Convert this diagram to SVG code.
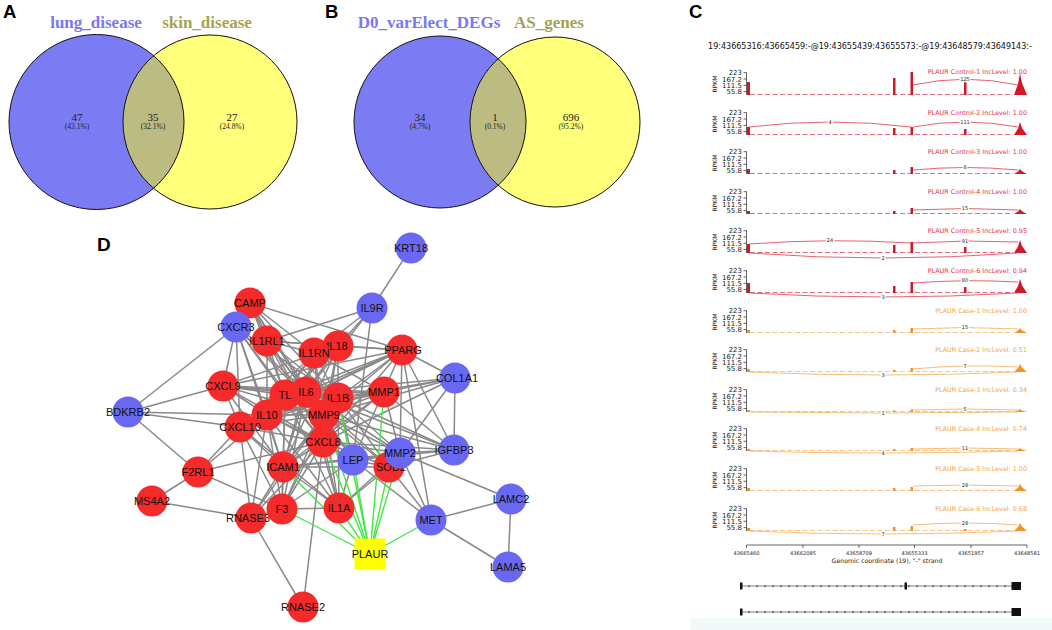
<svg xmlns="http://www.w3.org/2000/svg" xmlns:xlink="http://www.w3.org/1999/xlink" width="1052" height="630" viewBox="0 0 1052 630">
<style>
.pl{font-family:"Liberation Sans",Arial,sans-serif;font-weight:bold;font-size:18.5px;fill:#000}
.vt{font-family:"Liberation Serif","Times New Roman",serif;font-weight:bold;font-size:17px;text-anchor:middle}
.vn{font-family:"Liberation Serif","Times New Roman",serif;font-size:11px;text-anchor:middle;fill:#222}
.vp{font-family:"Liberation Serif","Times New Roman",serif;font-size:7.5px;text-anchor:middle;fill:#222}
.vo{fill:none;stroke:#111;stroke-width:1}
.ct{font-family:"DejaVu Sans",sans-serif;font-size:8px;text-anchor:middle;fill:#111}
.axt text{font-family:"DejaVu Sans",sans-serif;font-size:7px;text-anchor:end;fill:#222}
.axl{stroke:#222;stroke-width:0.7;fill:none}
.lab{font-family:"DejaVu Sans",sans-serif;font-size:6.4px;text-anchor:end}
.jn{font-family:"DejaVu Sans",sans-serif;font-size:5px;text-anchor:middle;fill:#222;paint-order:stroke;stroke:#fff;stroke-width:2.5px}
.ctrl .lab{fill:#e8303f}.ctrl .pk{fill:#d01828}.ctrl .arc{fill:none;stroke:#e25060;stroke-width:0.9}.ctrl .nz{stroke:#e06070;stroke-width:0.9;stroke-dasharray:5 2.5}
.case .lab{fill:#f7a443}.case .pk{fill:#f39224}.case .arc{fill:none;stroke:#f6b468;stroke-width:0.9}.case .nz{stroke:#f7bc78;stroke-width:0.9;stroke-dasharray:5 2.5}
.xt{font-family:"DejaVu Sans",sans-serif;font-size:5.1px;text-anchor:middle;fill:#222}
.xl{font-family:"DejaVu Sans",sans-serif;font-size:6.2px;text-anchor:middle;fill:#222}
.gl{fill:none;stroke:#555;stroke-width:0.8;marker-mid:url(#chev)}
.ex{fill:#111}
.e{stroke:#898989;stroke-width:1.5}
.g{stroke:#40e840;stroke-width:1.4}
.r{fill:#f52a2a}.b{fill:#6868f3}
.n{font-family:"Liberation Sans",Arial,sans-serif;font-size:11px;text-anchor:middle;fill:#111}
</style>
<defs>
<marker id="chev" viewBox="0 0 4 4" refX="2" refY="2" markerWidth="3" markerHeight="3" markerUnits="userSpaceOnUse" orient="auto"><path d="M0.6 0.5L3.2 2L0.6 3.5" fill="none" stroke="#333" stroke-width="0.8"/></marker>
<g id="ax" class="axt">
<path class="axl" d="M746.5 0.5V23M743.5 0.7H746.5M743.5 7H746.5M743.5 13.3H746.5M743.5 19.6H746.5"/>
<text x="742" y="3.2">223</text><text x="742" y="9.5">167.2</text><text x="742" y="15.8">111.5</text><text x="742" y="22">55.8</text>
<text transform="translate(717,12) rotate(-90)" style="text-anchor:middle;font-size:6px">RPKM</text>
</g>
</defs>
<rect width="1052" height="630" fill="#fff"/>

<!-- Panel A -->
<g id="panelA">
<text class="pl" x="3" y="18">A</text>
<circle cx="96.5" cy="122" r="87.5" fill="#7b7bf3"/>
<circle cx="210" cy="122" r="87" fill="#ffff7a"/>
<path d="M153.6 55.7A87 87 0 0 0 153.6 188.3A87.5 87.5 0 0 0 153.6 55.7Z" fill="#bcbc82"/>
<circle class="vo" cx="96.5" cy="122" r="87.5"/>
<circle class="vo" cx="210" cy="122" r="87"/>
<text class="vt" x="96" y="27.5" fill="#7878f0">lung_disease</text>
<text class="vt" x="207" y="27.5" fill="#a3a352">skin_disease</text>
<text class="vn" x="77" y="121">47</text><text class="vp" x="77" y="129">(43.1%)</text>
<text class="vn" x="153" y="121">35</text><text class="vp" x="153" y="129">(32.1%)</text>
<text class="vn" x="232" y="121">27</text><text class="vp" x="232" y="129">(24.8%)</text>
</g>

<!-- Panel B -->
<g id="panelB">
<text class="pl" x="325" y="18">B</text>
<circle cx="440" cy="122" r="86" fill="#7b7bf3"/>
<circle cx="555" cy="122" r="85" fill="#ffff7a"/>
<path d="M498.2 58.7A85 85 0 0 0 498.2 185.3A86 86 0 0 0 498.2 58.7Z" fill="#bcbc82"/>
<circle class="vo" cx="440" cy="122" r="86"/>
<circle class="vo" cx="555" cy="122" r="85"/>
<text class="vt" x="429" y="27.5" fill="#7878f0">D0_varElect_DEGs</text>
<text class="vt" x="549" y="27.5" fill="#a3a352">AS_genes</text>
<text class="vn" x="420" y="121">34</text><text class="vp" x="420" y="129">(4.7%)</text>
<text class="vn" x="495" y="121">1</text><text class="vp" x="495" y="129">(0.1%)</text>
<text class="vn" x="571" y="121">696</text><text class="vp" x="571" y="129">(95.2%)</text>
</g>

<!-- Panel C -->
<g id="panelC">
<text class="pl" x="689" y="18">C</text>
<text class="ct" x="870" y="49">19:43665316:43665459:-@19:43655439:43655573:-@19:43648579:43649143:-</text>

<g class="ctrl" transform="translate(0,72)"><use href="#ax" xlink:href="#ax"/>
<text class="lab" x="1027" y="2">PLAUR Control-1 IncLevel: 1.00</text>
<line class="nz" x1="750" y1="22.5" x2="1013" y2="22.5"/>
<path class="pk" d="M747 23V10H750V23ZM893 23V6H895.5V23ZM910.5 23V0H913V23ZM964 23V10H966.5V23ZM1014 23L1018 12L1020 1L1022 10.9L1027 23Z"/>
<path class="arc" d="M913 13Q965 1.5 1018 13"/>
<text class="jn" x="965" y="9">125</text></g>

<g class="ctrl" transform="translate(0,112)"><use href="#ax" xlink:href="#ax"/>
<text class="lab" x="1027" y="2.5">PLAUR Control-2 IncLevel: 1.00</text>
<line class="nz" x1="750" y1="22.5" x2="1013" y2="22.5"/>
<path class="pk" d="M747 23V15H750V23ZM893 23V16H895.5V23ZM910.5 23V15H913V23ZM964 23V17H966.5V23ZM1014 23L1018 16.5L1020 10L1022 15.9L1027 23Z"/>
<path class="arc" d="M749 15Q830 5 911 15M913 15Q965 5 1018 15"/>
<text class="jn" x="830" y="11.6">4</text><text class="jn" x="965" y="11.6">111</text></g>

<g class="ctrl" transform="translate(0,151)"><use href="#ax" xlink:href="#ax"/>
<text class="lab" x="1027" y="2.5">PLAUR Control-3 IncLevel: 1.00</text>
<line class="nz" x1="750" y1="22.5" x2="1013" y2="22.5"/>
<path class="pk" d="M747 23V18H750V23ZM893 23V19H895.5V23ZM910.5 23V16H913V23ZM1014 23L1018 20.5L1020 18L1022 20.3L1027 23Z"/>
<path class="arc" d="M913 19Q965 14 1018 19"/>
<text class="jn" x="965" y="18.1">8</text></g>

<g class="ctrl" transform="translate(0,191)"><use href="#ax" xlink:href="#ax"/>
<text class="lab" x="1027" y="2.5">PLAUR Control-4 IncLevel: 1.00</text>
<line class="nz" x1="750" y1="22.5" x2="1013" y2="22.5"/>
<path class="pk" d="M747 23V20H750V23ZM893 23V20H895.5V23ZM910.5 23V17H913V23ZM1014 23L1018 20.5L1020 18L1022 20.3L1027 23Z"/>
<path class="arc" d="M913 19Q965 16 1018 19"/>
<text class="jn" x="965" y="19.1">15</text></g>

<g class="ctrl" transform="translate(0,230)"><use href="#ax" xlink:href="#ax"/>
<text class="lab" x="1027" y="2.5">PLAUR Control-5 IncLevel: 0.95</text>
<line class="nz" x1="750" y1="22.5" x2="1013" y2="22.5"/>
<path class="pk" d="M747 23V14H750V23ZM893 23V15H895.5V23ZM910.5 23V12H913V23ZM964 23V17H966.5V23ZM1014 23L1018 16.5L1020 10L1022 15.9L1027 23Z"/>
<path class="arc" d="M749 14Q830 8 911 13M913 13Q965 9.5 1018 12M749 23Q883 33 1018 23"/>
<text class="jn" x="830" y="12.3">24</text><text class="jn" x="965" y="12.6">91</text><text class="jn" x="883" y="29.6">2</text></g>

<g class="ctrl" transform="translate(0,270)"><use href="#ax" xlink:href="#ax"/>
<text class="lab" x="1027" y="2.5">PLAUR Control-6 IncLevel: 0.94</text>
<line class="nz" x1="750" y1="22.5" x2="1013" y2="22.5"/>
<path class="pk" d="M747 23V13H750V23ZM893 23V16H895.5V23ZM910.5 23V12H913V23ZM964 23V17H966.5V23ZM1014 23L1018 16L1020 9L1022 15.3L1027 23Z"/>
<path class="arc" d="M913 13Q965 9 1018 12M749 23Q883 31 1018 23"/>
<text class="jn" x="965" y="12.4">80</text><text class="jn" x="883" y="28.6">3</text></g>

<g class="case" transform="translate(0,310)"><use href="#ax" xlink:href="#ax"/>
<text class="lab" x="1027" y="2.5">PLAUR Case-1 IncLevel: 1.00</text>
<line class="nz" x1="750" y1="22.5" x2="1013" y2="22.5"/>
<path class="pk" d="M747 23V20H750V23ZM893 23V20H895.5V23ZM910.5 23V18H913V23ZM1014 23L1018 20.5L1020 18L1022 20.3L1027 23Z"/>
<path class="arc" d="M913 19Q965 16 1018 19"/>
<text class="jn" x="965" y="19.1">15</text></g>

<g class="case" transform="translate(0,349)"><use href="#ax" xlink:href="#ax"/>
<text class="lab" x="1027" y="2.5">PLAUR Case-2 IncLevel: 0.51</text>
<line class="nz" x1="750" y1="22.5" x2="1013" y2="22.5"/>
<path class="pk" d="M747 23V20H750V23ZM893 23V21H895.5V23ZM910.5 23V19H913V23ZM1014 23L1018 19L1020 15L1022 18.6L1027 23Z"/>
<path class="arc" d="M913 20Q965 15 1018 18M749 23Q883 29 1018 23"/>
<text class="jn" x="965" y="18.6">7</text><text class="jn" x="883" y="27.6">3</text></g>

<g class="case" transform="translate(0,389)"><use href="#ax" xlink:href="#ax"/>
<text class="lab" x="1027" y="2.5">PLAUR Case-3 IncLevel: 0.34</text>
<line class="nz" x1="750" y1="22.5" x2="1013" y2="22.5"/>
<path class="pk" d="M747 23V21H750V23ZM893 23V21.5H895.5V23ZM910.5 23V20.5H913V23ZM1014 23L1018 21.5L1020 20L1022 21.4L1027 23Z"/>
<path class="arc" d="M913 21Q965 19 1018 21M749 23Q883 25 1018 23"/>
<text class="jn" x="965" y="21.6">5</text><text class="jn" x="883" y="25.6">1</text></g>

<g class="case" transform="translate(0,428)"><use href="#ax" xlink:href="#ax"/>
<text class="lab" x="1027" y="2.5">PLAUR Case-4 IncLevel: 0.74</text>
<line class="nz" x1="750" y1="22.5" x2="1013" y2="22.5"/>
<path class="pk" d="M747 23V21H750V23ZM893 23V21H895.5V23ZM910.5 23V20H913V23ZM1014 23L1018 21.5L1020 20L1022 21.4L1027 23Z"/>
<path class="arc" d="M913 21Q965 19 1018 21M749 23Q883 27 1018 23"/>
<text class="jn" x="965" y="21.6">11</text><text class="jn" x="883" y="26.6">4</text></g>

<g class="case" transform="translate(0,468)"><use href="#ax" xlink:href="#ax"/>
<text class="lab" x="1027" y="2.5">PLAUR Case-5 IncLevel: 1.00</text>
<line class="nz" x1="750" y1="22.5" x2="1013" y2="22.5"/>
<path class="pk" d="M747 23V20H750V23ZM893 23V20H895.5V23ZM910.5 23V19H913V23ZM1014 23L1018 19.5L1020 16L1022 19.2L1027 23Z"/>
<path class="arc" d="M913 18Q965 16 1018 18"/>
<text class="jn" x="965" y="18.6">28</text></g>

<g class="case" transform="translate(0,508)"><use href="#ax" xlink:href="#ax"/>
<text class="lab" x="1027" y="2.5">PLAUR Case-6 IncLevel: 0.68</text>
<line class="nz" x1="750" y1="22.5" x2="1013" y2="22.5"/>
<path class="pk" d="M747 23V20H750V23ZM893 23V19H895.5V23ZM910.5 23V18H913V23ZM964 23V21H966.5V23ZM1014 23L1018 19L1020 15L1022 18.6L1027 23Z"/>
<path class="arc" d="M913 17Q965 13 1018 17M749 23Q883 29 1018 23"/>
<text class="jn" x="965" y="16.6">28</text><text class="jn" x="883" y="27.6">7</text></g>

<path class="axl" d="M746.5 545H1027M746.5 545V548M803 545V548M859 545V548M914.5 545V548M971 545V548M1027 545V548"/>
<text class="xt" x="746.5" y="555">43665460</text>
<text class="xt" x="803" y="555">43662085</text>
<text class="xt" x="859" y="555">43658709</text>
<text class="xt" x="914.5" y="555">43655333</text>
<text class="xt" x="971" y="555">43651957</text>
<text class="xt" x="1027" y="555">43648581</text>
<text class="xl" x="887" y="563">Genomic coordinate (19), "-" strand</text>

<polyline class="gl" points="741,586 749,586 757,586 765,586 773,586 781,586 789,586 797,586 805,586 813,586 821,586 829,586 837,586 845,586 853,586 861,586 869,586 877,586 885,586 893,586 901,586 909,586 917,586 925,586 933,586 941,586 949,586 957,586 965,586 973,586 981,586 989,586 997,586 1005,586 1012,586"/>
<rect class="ex" x="740" y="582.5" width="2.5" height="7"/>
<rect class="ex" x="904.5" y="582.5" width="2.5" height="7"/>
<rect class="ex" x="1011.5" y="582" width="9.5" height="8"/>
<polyline class="gl" points="741,612 749,612 757,612 765,612 773,612 781,612 789,612 797,612 805,612 813,612 821,612 829,612 837,612 845,612 853,612 861,612 869,612 877,612 885,612 893,612 901,612 909,612 917,612 925,612 933,612 941,612 949,612 957,612 965,612 973,612 981,612 989,612 997,612 1005,612 1012,612"/>
<rect class="ex" x="740" y="608.5" width="2.5" height="7"/>
<rect class="ex" x="1011.5" y="608" width="9.5" height="8"/>
<rect x="690" y="618" width="362" height="12" fill="#f3f9f9"/>
</g>

<!-- Panel D -->
<text class="pl" x="97" y="251" style="font-size:19px">D</text>
<g id="edges">
<line class="e" x1="411" y1="248" x2="372" y2="308"/>
<line class="e" x1="372" y1="308" x2="267" y2="341"/>
<line class="e" x1="372" y1="308" x2="338" y2="346"/>
<line class="e" x1="372" y1="308" x2="314" y2="353"/>
<line class="e" x1="372" y1="308" x2="306" y2="392"/>
<line class="e" x1="372" y1="308" x2="353" y2="460"/>
<line class="e" x1="250" y1="303" x2="236" y2="327"/>
<line class="e" x1="250" y1="303" x2="267" y2="341"/>
<line class="e" x1="250" y1="303" x2="314" y2="353"/>
<line class="e" x1="250" y1="303" x2="306" y2="392"/>
<line class="e" x1="250" y1="303" x2="285" y2="395"/>
<line class="e" x1="250" y1="303" x2="338" y2="398"/>
<line class="e" x1="250" y1="303" x2="324" y2="415"/>
<line class="e" x1="250" y1="303" x2="402" y2="350"/>
<line class="e" x1="250" y1="303" x2="323" y2="442"/>
<line class="e" x1="236" y1="327" x2="128" y2="412"/>
<line class="e" x1="236" y1="327" x2="223" y2="386"/>
<line class="e" x1="236" y1="327" x2="240" y2="427"/>
<line class="e" x1="236" y1="327" x2="267" y2="415"/>
<line class="e" x1="236" y1="327" x2="306" y2="392"/>
<line class="e" x1="236" y1="327" x2="285" y2="395"/>
<line class="e" x1="236" y1="327" x2="338" y2="398"/>
<line class="e" x1="236" y1="327" x2="324" y2="415"/>
<line class="e" x1="236" y1="327" x2="323" y2="442"/>
<line class="e" x1="236" y1="327" x2="283" y2="467"/>
<line class="e" x1="267" y1="341" x2="314" y2="353"/>
<line class="e" x1="267" y1="341" x2="338" y2="346"/>
<line class="e" x1="267" y1="341" x2="306" y2="392"/>
<line class="e" x1="267" y1="341" x2="285" y2="395"/>
<line class="e" x1="267" y1="341" x2="338" y2="398"/>
<line class="e" x1="267" y1="341" x2="324" y2="415"/>
<line class="e" x1="267" y1="341" x2="402" y2="350"/>
<line class="e" x1="267" y1="341" x2="323" y2="442"/>
<line class="e" x1="267" y1="341" x2="267" y2="415"/>
<line class="e" x1="314" y1="353" x2="338" y2="346"/>
<line class="e" x1="314" y1="353" x2="306" y2="392"/>
<line class="e" x1="314" y1="353" x2="285" y2="395"/>
<line class="e" x1="314" y1="353" x2="338" y2="398"/>
<line class="e" x1="314" y1="353" x2="324" y2="415"/>
<line class="e" x1="314" y1="353" x2="323" y2="442"/>
<line class="e" x1="314" y1="353" x2="267" y2="415"/>
<line class="e" x1="314" y1="353" x2="240" y2="427"/>
<line class="e" x1="314" y1="353" x2="283" y2="467"/>
<line class="e" x1="314" y1="353" x2="384" y2="392"/>
<line class="e" x1="338" y1="346" x2="306" y2="392"/>
<line class="e" x1="338" y1="346" x2="338" y2="398"/>
<line class="e" x1="338" y1="346" x2="285" y2="395"/>
<line class="e" x1="338" y1="346" x2="323" y2="442"/>
<line class="e" x1="338" y1="346" x2="324" y2="415"/>
<line class="e" x1="338" y1="346" x2="267" y2="415"/>
<line class="e" x1="338" y1="346" x2="223" y2="386"/>
<line class="e" x1="338" y1="346" x2="402" y2="350"/>
<line class="e" x1="338" y1="346" x2="283" y2="467"/>
<line class="e" x1="223" y1="386" x2="240" y2="427"/>
<line class="e" x1="223" y1="386" x2="267" y2="415"/>
<line class="e" x1="223" y1="386" x2="306" y2="392"/>
<line class="e" x1="223" y1="386" x2="285" y2="395"/>
<line class="e" x1="223" y1="386" x2="338" y2="398"/>
<line class="e" x1="223" y1="386" x2="324" y2="415"/>
<line class="e" x1="223" y1="386" x2="323" y2="442"/>
<line class="e" x1="223" y1="386" x2="283" y2="467"/>
<line class="e" x1="223" y1="386" x2="402" y2="350"/>
<line class="e" x1="223" y1="386" x2="384" y2="392"/>
<line class="e" x1="223" y1="386" x2="128" y2="412"/>
<line class="e" x1="128" y1="412" x2="240" y2="427"/>
<line class="e" x1="128" y1="412" x2="267" y2="415"/>
<line class="e" x1="128" y1="412" x2="198" y2="472"/>
<line class="e" x1="285" y1="395" x2="306" y2="392"/>
<line class="e" x1="285" y1="395" x2="338" y2="398"/>
<line class="e" x1="285" y1="395" x2="324" y2="415"/>
<line class="e" x1="285" y1="395" x2="323" y2="442"/>
<line class="e" x1="285" y1="395" x2="267" y2="415"/>
<line class="e" x1="285" y1="395" x2="240" y2="427"/>
<line class="e" x1="285" y1="395" x2="283" y2="467"/>
<line class="e" x1="285" y1="395" x2="384" y2="392"/>
<line class="e" x1="285" y1="395" x2="402" y2="350"/>
<line class="e" x1="285" y1="395" x2="282" y2="509"/>
<line class="e" x1="285" y1="395" x2="339" y2="508"/>
<line class="e" x1="306" y1="392" x2="338" y2="398"/>
<line class="e" x1="306" y1="392" x2="324" y2="415"/>
<line class="e" x1="306" y1="392" x2="323" y2="442"/>
<line class="e" x1="306" y1="392" x2="267" y2="415"/>
<line class="e" x1="306" y1="392" x2="240" y2="427"/>
<line class="e" x1="306" y1="392" x2="283" y2="467"/>
<line class="e" x1="306" y1="392" x2="384" y2="392"/>
<line class="e" x1="306" y1="392" x2="402" y2="350"/>
<line class="e" x1="306" y1="392" x2="282" y2="509"/>
<line class="e" x1="306" y1="392" x2="339" y2="508"/>
<line class="e" x1="306" y1="392" x2="353" y2="460"/>
<line class="e" x1="306" y1="392" x2="389" y2="467"/>
<line class="e" x1="306" y1="392" x2="400" y2="453"/>
<line class="e" x1="306" y1="392" x2="455" y2="378"/>
<line class="e" x1="306" y1="392" x2="454" y2="450"/>
<line class="e" x1="338" y1="398" x2="324" y2="415"/>
<line class="e" x1="338" y1="398" x2="323" y2="442"/>
<line class="e" x1="338" y1="398" x2="267" y2="415"/>
<line class="e" x1="338" y1="398" x2="240" y2="427"/>
<line class="e" x1="338" y1="398" x2="283" y2="467"/>
<line class="e" x1="338" y1="398" x2="384" y2="392"/>
<line class="e" x1="338" y1="398" x2="402" y2="350"/>
<line class="e" x1="338" y1="398" x2="282" y2="509"/>
<line class="e" x1="338" y1="398" x2="339" y2="508"/>
<line class="e" x1="338" y1="398" x2="353" y2="460"/>
<line class="e" x1="338" y1="398" x2="389" y2="467"/>
<line class="e" x1="338" y1="398" x2="400" y2="453"/>
<line class="e" x1="338" y1="398" x2="455" y2="378"/>
<line class="e" x1="338" y1="398" x2="454" y2="450"/>
<line class="e" x1="384" y1="392" x2="324" y2="415"/>
<line class="e" x1="384" y1="392" x2="323" y2="442"/>
<line class="e" x1="384" y1="392" x2="455" y2="378"/>
<line class="e" x1="384" y1="392" x2="400" y2="453"/>
<line class="e" x1="384" y1="392" x2="454" y2="450"/>
<line class="e" x1="384" y1="392" x2="283" y2="467"/>
<line class="e" x1="384" y1="392" x2="267" y2="415"/>
<line class="e" x1="384" y1="392" x2="240" y2="427"/>
<line class="e" x1="402" y1="350" x2="455" y2="378"/>
<line class="e" x1="402" y1="350" x2="324" y2="415"/>
<line class="e" x1="402" y1="350" x2="353" y2="460"/>
<line class="e" x1="402" y1="350" x2="400" y2="453"/>
<line class="e" x1="402" y1="350" x2="323" y2="442"/>
<line class="e" x1="402" y1="350" x2="431" y2="520"/>
<line class="e" x1="402" y1="350" x2="454" y2="450"/>
<line class="e" x1="402" y1="350" x2="267" y2="415"/>
<line class="e" x1="402" y1="350" x2="240" y2="427"/>
<line class="e" x1="455" y1="378" x2="324" y2="415"/>
<line class="e" x1="455" y1="378" x2="400" y2="453"/>
<line class="e" x1="455" y1="378" x2="454" y2="450"/>
<line class="e" x1="455" y1="378" x2="323" y2="442"/>
<line class="e" x1="324" y1="415" x2="323" y2="442"/>
<line class="e" x1="324" y1="415" x2="267" y2="415"/>
<line class="e" x1="324" y1="415" x2="240" y2="427"/>
<line class="e" x1="324" y1="415" x2="283" y2="467"/>
<line class="e" x1="324" y1="415" x2="282" y2="509"/>
<line class="e" x1="324" y1="415" x2="339" y2="508"/>
<line class="e" x1="324" y1="415" x2="353" y2="460"/>
<line class="e" x1="324" y1="415" x2="389" y2="467"/>
<line class="e" x1="324" y1="415" x2="400" y2="453"/>
<line class="e" x1="324" y1="415" x2="454" y2="450"/>
<line class="e" x1="324" y1="415" x2="251" y2="518"/>
<line class="e" x1="267" y1="415" x2="240" y2="427"/>
<line class="e" x1="267" y1="415" x2="323" y2="442"/>
<line class="e" x1="267" y1="415" x2="283" y2="467"/>
<line class="e" x1="267" y1="415" x2="282" y2="509"/>
<line class="e" x1="267" y1="415" x2="339" y2="508"/>
<line class="e" x1="267" y1="415" x2="353" y2="460"/>
<line class="e" x1="267" y1="415" x2="251" y2="518"/>
<line class="e" x1="267" y1="415" x2="198" y2="472"/>
<line class="e" x1="240" y1="427" x2="323" y2="442"/>
<line class="e" x1="240" y1="427" x2="283" y2="467"/>
<line class="e" x1="240" y1="427" x2="198" y2="472"/>
<line class="e" x1="240" y1="427" x2="282" y2="509"/>
<line class="e" x1="240" y1="427" x2="251" y2="518"/>
<line class="e" x1="240" y1="427" x2="339" y2="508"/>
<line class="e" x1="323" y1="442" x2="283" y2="467"/>
<line class="e" x1="323" y1="442" x2="282" y2="509"/>
<line class="e" x1="323" y1="442" x2="339" y2="508"/>
<line class="e" x1="323" y1="442" x2="353" y2="460"/>
<line class="e" x1="323" y1="442" x2="389" y2="467"/>
<line class="e" x1="323" y1="442" x2="400" y2="453"/>
<line class="e" x1="323" y1="442" x2="454" y2="450"/>
<line class="e" x1="323" y1="442" x2="251" y2="518"/>
<line class="e" x1="323" y1="442" x2="303" y2="607"/>
<line class="e" x1="323" y1="442" x2="198" y2="472"/>
<line class="e" x1="283" y1="467" x2="282" y2="509"/>
<line class="e" x1="283" y1="467" x2="339" y2="508"/>
<line class="e" x1="283" y1="467" x2="353" y2="460"/>
<line class="e" x1="283" y1="467" x2="251" y2="518"/>
<line class="e" x1="283" y1="467" x2="389" y2="467"/>
<line class="e" x1="283" y1="467" x2="400" y2="453"/>
<line class="e" x1="282" y1="509" x2="339" y2="508"/>
<line class="e" x1="282" y1="509" x2="251" y2="518"/>
<line class="e" x1="282" y1="509" x2="198" y2="472"/>
<line class="e" x1="282" y1="509" x2="353" y2="460"/>
<line class="e" x1="339" y1="508" x2="353" y2="460"/>
<line class="e" x1="339" y1="508" x2="389" y2="467"/>
<line class="e" x1="339" y1="508" x2="400" y2="453"/>
<line class="e" x1="353" y1="460" x2="389" y2="467"/>
<line class="e" x1="353" y1="460" x2="400" y2="453"/>
<line class="e" x1="353" y1="460" x2="454" y2="450"/>
<line class="e" x1="353" y1="460" x2="431" y2="520"/>
<line class="e" x1="389" y1="467" x2="400" y2="453"/>
<line class="e" x1="389" y1="467" x2="431" y2="520"/>
<line class="e" x1="389" y1="467" x2="454" y2="450"/>
<line class="e" x1="400" y1="453" x2="454" y2="450"/>
<line class="e" x1="400" y1="453" x2="431" y2="520"/>
<line class="e" x1="400" y1="453" x2="511" y2="499"/>
<line class="e" x1="431" y1="520" x2="511" y2="499"/>
<line class="e" x1="431" y1="520" x2="508" y2="567"/>
<line class="e" x1="511" y1="499" x2="508" y2="567"/>
<line class="e" x1="152" y1="501" x2="198" y2="472"/>
<line class="e" x1="152" y1="501" x2="251" y2="518"/>
<line class="e" x1="251" y1="518" x2="303" y2="607"/>
<line class="g" x1="370" y1="554" x2="339" y2="508"/>
<line class="g" x1="370" y1="554" x2="353" y2="460"/>
<line class="g" x1="370" y1="554" x2="389" y2="467"/>
<line class="g" x1="370" y1="554" x2="400" y2="453"/>
<line class="g" x1="370" y1="554" x2="431" y2="520"/>
<line class="g" x1="370" y1="554" x2="282" y2="509"/>
<line class="g" x1="370" y1="554" x2="283" y2="467"/>
<line class="g" x1="370" y1="554" x2="323" y2="442"/>
<line class="g" x1="370" y1="554" x2="338" y2="398"/>
<line class="g" x1="370" y1="554" x2="384" y2="392"/>
<line class="g" x1="370" y1="554" x2="324" y2="415"/>
</g>

<g id="n-KRT18"><circle class="b" cx="411" cy="248" r="15.5"/><text class="n" x="411" y="252">KRT18</text></g>
<g id="n-IL9R"><circle class="b" cx="372" cy="308" r="15.5"/><text class="n" x="372" y="312">IL9R</text></g>
<g id="n-COL1A1"><circle class="b" cx="455" cy="378" r="15.5"/><text class="n" x="457" y="382">COL1A1</text></g>
<g id="n-PPARG"><circle class="r" cx="402" cy="350" r="15.5"/><text class="n" x="403" y="354">PPARG</text></g>
<g id="n-CAMP"><circle class="r" cx="250" cy="303" r="15.5"/><text class="n" x="250" y="307">CAMP</text></g>
<g id="n-CXCR3"><circle class="b" cx="236" cy="327" r="15.5"/><text class="n" x="236" y="331">CXCR3</text></g>
<g id="n-IL1RL1"><circle class="r" cx="267" cy="341" r="15.5"/><text class="n" x="267" y="345">IL1RL1</text></g>
<g id="n-IL18"><circle class="r" cx="338" cy="346" r="15.5"/><text class="n" x="337" y="350">IL18</text></g>
<g id="n-IL1RN"><circle class="r" cx="314" cy="353" r="15.5"/><text class="n" x="314" y="357">IL1RN</text></g>
<g id="n-CXCL9"><circle class="r" cx="223" cy="386" r="15.5"/><text class="n" x="223" y="390">CXCL9</text></g>
<g id="n-TL"><circle class="r" cx="285" cy="395" r="15.5"/><text class="n" x="285" y="399">TL</text></g>
<g id="n-IL1B"><circle class="r" cx="338" cy="398" r="15.5"/><text class="n" x="338" y="402">IL1B</text></g>
<g id="n-IL6"><circle class="r" cx="306" cy="392" r="15.5"/><text class="n" x="306" y="396">IL6</text></g>
<g id="n-MMP1"><circle class="r" cx="384" cy="392" r="15.5"/><text class="n" x="384" y="396">MMP1</text></g>
<g id="n-MMP9"><circle class="r" cx="324" cy="415" r="15.5"/><text class="n" x="324" y="419">MMP9</text></g>
<g id="n-IL10"><circle class="r" cx="267" cy="415" r="15.5"/><text class="n" x="267" y="419">IL10</text></g>
<g id="n-CXCL10"><circle class="r" cx="240" cy="427" r="15.5"/><text class="n" x="240" y="431">CXCL10</text></g>
<g id="n-CXCL8"><circle class="r" cx="323" cy="442" r="15.5"/><text class="n" x="323" y="446">CXCL8</text></g>
<g id="n-BDKRB2"><circle class="b" cx="128" cy="412" r="15.5"/><text class="n" x="128" y="416">BDKRB2</text></g>
<g id="n-ICAM1"><circle class="r" cx="283" cy="467" r="15.5"/><text class="n" x="283" y="471">ICAM1</text></g>
<g id="n-F2RL1"><circle class="r" cx="198" cy="472" r="15.5"/><text class="n" x="198" y="476">F2RL1</text></g>
<g id="n-MS4A2"><circle class="r" cx="152" cy="501" r="15.5"/><text class="n" x="152" y="505">MS4A2</text></g>
<g id="n-RNASE3"><circle class="r" cx="251" cy="518" r="15.5"/><text class="n" x="248" y="522">RNASE3</text></g>
<g id="n-F3"><circle class="r" cx="282" cy="509" r="15.5"/><text class="n" x="282" y="513">F3</text></g>
<g id="n-IL1A"><circle class="r" cx="339" cy="508" r="15.5"/><text class="n" x="339" y="512">IL1A</text></g>
<g id="n-LEP"><circle class="b" cx="353" cy="460" r="15.5"/><text class="n" x="353" y="464">LEP</text></g>
<g id="n-SOD2"><circle class="r" cx="389" cy="467" r="15.5"/><text class="n" x="391" y="471">SOD2</text></g>
<g id="n-MMP2"><circle class="b" cx="400" cy="453" r="15.5"/><text class="n" x="400" y="457">MMP2</text></g>
<g id="n-IGFBP3"><circle class="b" cx="454" cy="450" r="15.5"/><text class="n" x="454" y="454">IGFBP3</text></g>
<g id="n-MET"><circle class="b" cx="431" cy="520" r="15.5"/><text class="n" x="431" y="524">MET</text></g>
<g id="n-LAMC2"><circle class="b" cx="511" cy="499" r="15.5"/><text class="n" x="511" y="503">LAMC2</text></g>
<g id="n-LAMA5"><circle class="b" cx="508" cy="567" r="15.5"/><text class="n" x="508" y="571">LAMA5</text></g>
<g id="n-RNASE2"><circle class="r" cx="303" cy="607" r="15.5"/><text class="n" x="303" y="611">RNASE2</text></g>
<g id="n-PLAUR"><rect x="354.5" y="538.5" width="31" height="31" fill="#ffff00"/><text class="n" x="370" y="558">PLAUR</text></g>
</svg>
